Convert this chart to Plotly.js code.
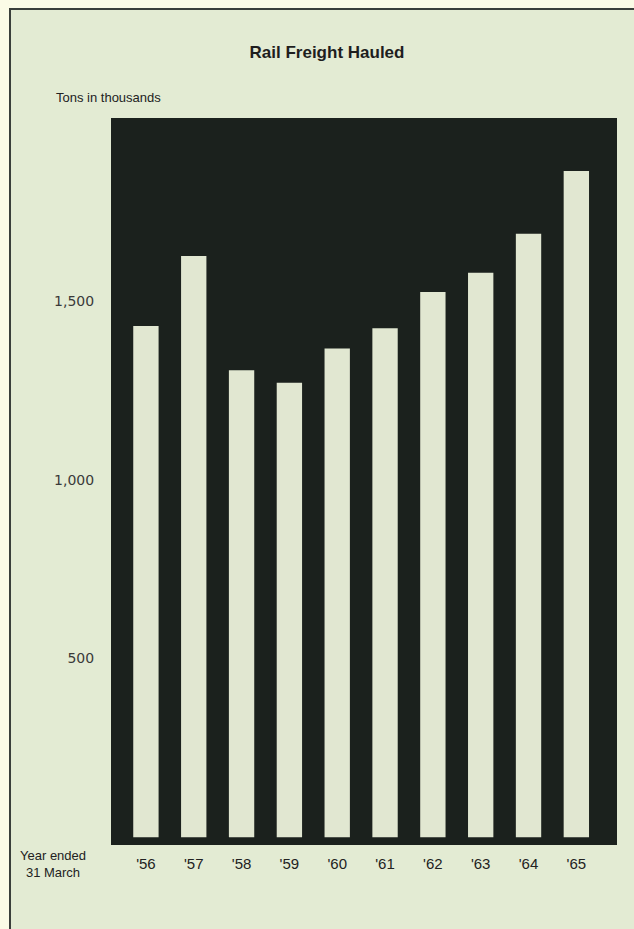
<!DOCTYPE html>
<html>
<head>
<meta charset="utf-8">
<script src="https://cdn.plot.ly/plotly-3.0.1.min.js"></script>
<style>
  html, body { margin: 0; padding: 0; background: #fbfbe6; }
  #chart { width: 634px; height: 929px; }
</style>
</head>
<body>
<div id="chart"></div>
<script>
// Rail freight hauled, years ended 31 March (tons in thousands)
const years = ["'56", "'57", "'58", "'59", "'60", "'61", "'62", "'63", "'64", "'65"];
const freightTons = [1430, 1626, 1306, 1271, 1367, 1424, 1525, 1579, 1688, 1864];
const yTickValues = [500, 1000, 1500];
const yTickLabels = ["500", "1,000", "1,500"];

const W = 634, H = 929;
const M = { l: 111, r: 17, t: 118, b: 84 };
const plotW = W - M.l - M.r;
const plotH = H - M.t - M.b;
// page pixel -> paper fraction helpers for the framing elements
const px = x => (x - M.l) / plotW;
const py = y => (H - M.b - y) / plotH;

const paperGreen = '#e3ebd3';
const barFill = '#e1e7d1';
const plotBlack = '#1b211d';

const trace = {
  type: 'bar',
  x: years,
  y: freightTons,
  marker: { color: barFill, line: { width: 0 } },
  hoverinfo: 'x+y'
};

const layout = {
  width: W,
  height: H,
  margin: M,
  paper_bgcolor: '#fbfbe6',
  plot_bgcolor: 'rgba(0,0,0,0)',
  bargap: 0.47,
  showlegend: false,
  title: {
    text: 'Rail Freight Hauled',
    font: { family: 'Liberation Sans, Arial, sans-serif', size: 17, color: '#1e1e1e', weight: 'bold' },
    xref: 'container', yref: 'container',
    x: 327 / W, y: 1 - 52 / H,
    xanchor: 'center', yanchor: 'middle'
  },
  xaxis: {
    type: 'category',
    range: [-0.73, 9.85],
    showgrid: false, zeroline: false, showline: false,
    ticks: 'outside', ticklen: 5, tickcolor: 'rgba(0,0,0,0)',
    tickfont: { family: 'Liberation Sans, Arial, sans-serif', size: 15, color: '#222' }
  },
  yaxis: {
    range: [-22, 2012],
    tickvals: yTickValues,
    ticktext: yTickLabels,
    showgrid: false, zeroline: false, showline: false,
    ticks: 'outside', ticklen: 13, tickcolor: 'rgba(0,0,0,0)',
    tickfont: { family: 'DejaVu Sans, Verdana, sans-serif', size: 14, color: '#3a3a3a' }
  },
  shapes: [
    // outer printed frame
    {
      type: 'rect', xref: 'paper', yref: 'paper', layer: 'below',
      x0: px(10), x1: px(W + 20), y0: py(H + 20), y1: py(9),
      fillcolor: paperGreen, line: { color: '#3a3f3a', width: 2 }
    },
    // solid black plotting field
    {
      type: 'rect', xref: 'paper', yref: 'paper', layer: 'below',
      x0: 0, x1: 1, y0: 0, y1: 1,
      fillcolor: plotBlack, line: { width: 0 }
    }
  ],
  annotations: [
    {
      text: 'Tons in thousands',
      xref: 'paper', yref: 'paper',
      x: px(54), y: py(98), xanchor: 'left', yanchor: 'middle',
      showarrow: false,
      font: { family: 'Liberation Sans, Arial, sans-serif', size: 13, color: '#222' }
    },
    {
      text: 'Year ended<br>31 March',
      xref: 'paper', yref: 'paper',
      x: px(53), y: py(864), xanchor: 'center', yanchor: 'middle', align: 'center',
      showarrow: false,
      font: { family: 'Liberation Sans, Arial, sans-serif', size: 13, color: '#222' }
    }
  ]
};

Plotly.newPlot('chart', [trace], layout, { displayModeBar: false, staticPlot: true });
</script>
</body>
</html>
